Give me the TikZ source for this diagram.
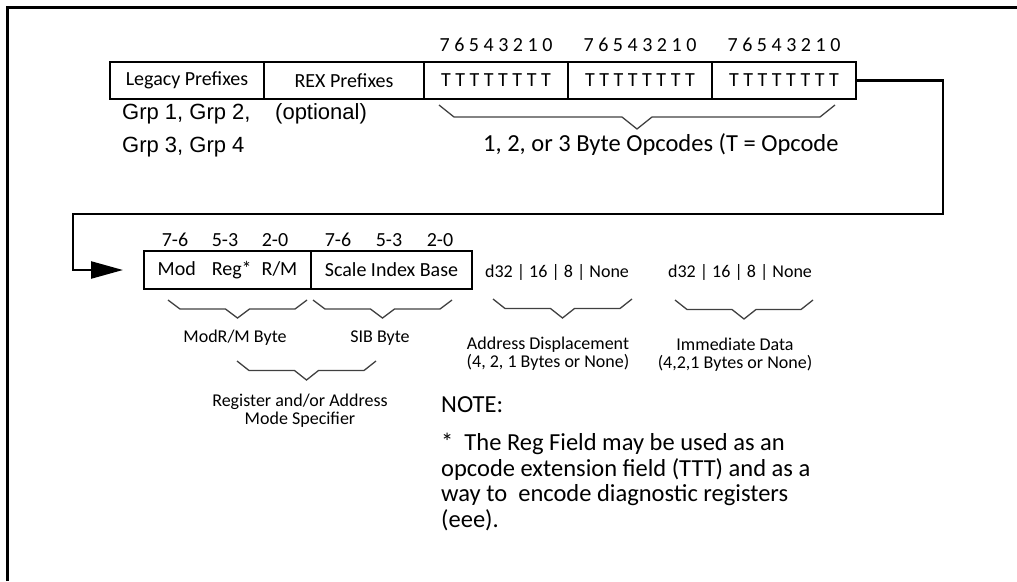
\documentclass[tikz,border=0pt]{standalone}
\usepackage{fontspec}
\setmainfont{Carlito}
\newfontfamily\arialfont{Liberation Sans}
\usepackage{tikz}
\usetikzlibrary{arrows.meta, positioning}

\begin{document}
\begin{tikzpicture}[
    x=1pt, y=-1pt,
    box/.style={rectangle, draw, line width=2.4pt, inner sep=0pt, outer sep=0pt,
                minimum height=37pt, font=\fontsize{20}{24}\selectfont},
    bits/.style={inner sep=0pt, font=\fontsize{20}{24}\selectfont},
    lbl/.style={inner sep=0pt, align=center, font=\fontsize{18}{18}\selectfont},
    big/.style={inner sep=0pt, font=\fontsize{24.5}{25.5}\selectfont},
    grp/.style={inner sep=0pt, font=\arialfont\fontsize{22}{26}\selectfont},
    brc/.style={line width=1.3pt, black!75},
    conn/.style={line width=2.4pt, -{Triangle[length=32pt, width=17pt]}, shorten >=21pt},
    frame/.style={line width=3pt},
]
\useasboundingbox (0,0) rectangle (1017,581);
\draw[frame] (7,581) -- (7,7) -- (1017,7);

% prefixes and opcode bytes
\node[box, minimum width=154pt] (legacy) at (187,80.5) {Legacy Prefixes};
\node[box, minimum width=160pt, right=0pt of legacy] (rex) {REX Prefixes};
\node[box, minimum width=144pt, right=0pt of rex] (op1) {T T T T T T T T};
\node[box, minimum width=144pt, right=0pt of op1] (op2) {T T T T T T T T};
\node[box, minimum width=144pt, right=0pt of op2] (op3) {T T T T T T T T};

\node[bits, above=10pt of op1] (bt1) {7 6 5 4 3 2 1 0};
\node[bits, above=10pt of op2] (bt2) {7 6 5 4 3 2 1 0};
\node[bits, above=10pt of op3] (bt3) {7 6 5 4 3 2 1 0};

\node[grp, anchor=base west] (grpa) at (122,119) {Grp 1, Grp 2,};
\node[grp, anchor=base west] (grpb) at (122,152) {Grp 3, Grp 4};
\node[grp, anchor=base west] (opt) at (275,119) {(optional)};
\node[big, anchor=base west] (opc) at (483,151) {1, 2, or 3 Byte Opcodes (T = Opcode};

% ModR/M and SIB bytes
\node[box, minimum width=167pt, minimum height=38pt] (modrm) at (227.5,270)
    {Mod\hspace{0.8em}Reg*\enspace R/M};
\node[box, minimum width=161pt, minimum height=38pt, right=0pt of modrm] (sib)
    {Scale Index Base};

\node[bits] (m76) at (175,240) {7-6};
\node[bits] (m53) at (225,240) {5-3};
\node[bits] (m20) at (275,240) {2-0};
\node[bits] (s76) at (338,240) {7-6};
\node[bits] (s53) at (389,240) {5-3};
\node[bits] (s20) at (440,240) {2-0};

\node[lbl] (disp) at (557,272) {d32 | 16 | 8 | None};
\node[lbl] (imm) at (740,272) {d32 | 16 | 8 | None};

\node[lbl] (modlbl) at (235,338) {ModR/M Byte};
\node[lbl] (siblbl) at (380,338) {SIB Byte};
\node[lbl] (displbl) at (548,354) {Address Displacement\\(4, 2, 1 Bytes or None)};
\node[lbl] (immlbl) at (735,354.5) {Immediate Data\\(4,2,1 Bytes or None)};
\node[lbl] (reglbl) at (300,411) {Register and/or Address\\Mode Specifier};

\node[big, anchor=base west] (note) at (441,412) {NOTE:};
\node[big, align=left, anchor=north west] (notetxt) at (441,433)
    {*\ \ The Reg Field may be used as an\\opcode extension field (TTT) and as a\\
     way to\ \ encode diagnostic registers\\(eee).};

% braces
\foreach \a/\b/\t/\d/\e in {439/835/105/12/15, 168/307/300/9/12, 313/452/300/9/12,
                            493/632/299/9.5/12, 675/813/300/9.5/12, 237/376/361/9.5/12}
  \draw[brc] (\a,\t) -- ++(\e,\d) -- ({(\a+\b)/2-\e},{\t+\d}) -- ({(\a+\b)/2},{\t+2*\d})
             -- ({(\a+\b)/2+\e},{\t+\d}) -- ({\b-\e},{\t+\d}) -- (\b,\t);

% connector
\coordinate (rt) at (943,214);
\coordinate (lt) at (73,214);
\draw[conn] (op3.east) -| (rt) -- (lt) |- (modrm.west);

\end{tikzpicture}
\end{document}
